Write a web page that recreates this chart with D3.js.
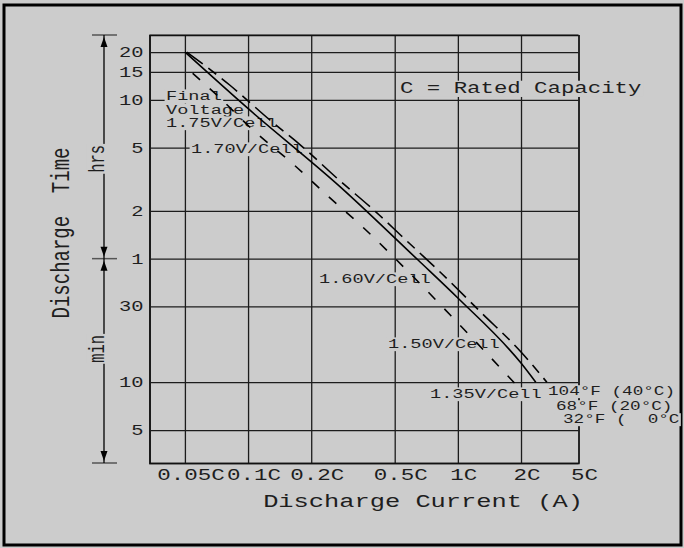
<!DOCTYPE html>
<html>
<head>
<meta charset="utf-8">
<script src="https://cdn.jsdelivr.net/npm/d3@7"></script>
<style>
  html, body { margin: 0; padding: 0; background: #cccccc; }
  svg { display: block; }
  text { font-family: "Liberation Mono", "Courier New", monospace; fill: #1e1e1e; white-space: pre; }
</style>
</head>
<body>
<div id="chart"></div>
<script>
//  DATA (current in multiples of C, time in minutes)

const xTicks = [0.05, 0.1, 0.2, 0.5, 1, 2, 5];
const xTickLabels = ['0.05C', '0.1C', '0.2C', '0.5C', '1C', '2C', '5C'];
const yTicks = [1200, 900, 600, 300, 120, 60, 30, 10, 5];
const yTickLabels = ['20', '15', '10', '5', '2', '1', '30', '10', '5'];

const seriesNames = ['104°F (40°C)', '68°F (20°C)', '32°F (  0°C'];

const current40 = [0.051, 0.0817, 0.127, 0.18, 0.265, 0.422, 0.539, 0.832, 1.283, 2.0, 3.02];
const time40 = [1200, 744, 448, 307, 193, 113, 83.3, 48.7, 27.7, 15.5, 10];

const current20 = [0.05, 0.098, 0.275, 0.646, 1.0, 2.0, 2.53];
const time20 = [1200, 541, 170, 58.8, 33.9, 13.2, 10];

const current0 = [0.0544, 0.0709, 0.1056, 0.166, 0.237, 0.352, 0.5, 0.692, 1.0, 1.399, 2.0];
const time0 = [881, 644, 387, 233, 151, 94.9, 60.5, 39.2, 23.6, 14.8, 8.93];

//  LAYOUT

const W = 684, H = 548, BG = '#cccccc';
const SX = 1.38; // the original lettering is stretched sideways
const plot = { left: 149.5, right: 578.5, top: 35, bottom: 463 };

const svg = d3.select('#chart')
    .append('svg')
    .attr('width', W)
    .attr('height', H);

svg.append('rect')
    .attr('x', 4).attr('y', 5)
    .attr('width', 677).attr('height', 540)
    .attr('fill', BG)
    .attr('stroke', '#000')
    .attr('stroke-width', 3);

//  SCALES : log scale up to 2C, the last step to 5C is squeezed into the edge
const pw = plot.right - plot.left;
const x = d3.scaleLog()
    .domain([0.0339, 2, 5])
    .range([plot.left, plot.left + pw * 0.866, plot.right]);

const y = d3.scaleLog()
    .domain([3.1, 1536])
    .range([plot.bottom, plot.top]);

//  GRID
svg.append('line')
    .attr('x1', plot.left).attr('x2', plot.right)
    .attr('y1', plot.top).attr('y2', plot.top)
    .attr('stroke', '#6a6a6a').attr('stroke-width', 1.5);

const xGrid = svg.append('g')
    .attr('transform', `translate(0, ${plot.bottom})`)
    .call(d3.axisBottom(x).tickValues(xTicks).tickSize(-(plot.bottom - plot.top)).tickFormat(''));
const yGrid = svg.append('g')
    .attr('transform', `translate(${plot.left}, 0)`)
    .call(d3.axisLeft(y).tickValues(yTicks).tickSize(-pw).tickFormat(''));

[xGrid, yGrid].forEach(g => {
    g.select('.domain').attr('stroke', '#111').attr('stroke-width', 1.5);
    g.selectAll('.tick line').attr('stroke', '#1c1c1c').attr('stroke-width', 1.3);
});

//  TEXT HELPER (optionally paints the background behind it to cut the grid)
function note(str, px, py, size, o = {}) {
    const g = svg.append('g')
        .attr('transform', `translate(${px}, ${py}) scale(${SX}, 1)` + (o.rotate ? ' rotate(-90)' : ''));
    const t = g.append('text')
        .attr('font-size', size)
        .attr('text-anchor', o.anchor || 'start')
        .text(str);
    if (o.bg) {
        const b = t.node().getBBox();
        g.insert('rect', 'text')
            .attr('x', b.x - 1).attr('y', b.y + 1)
            .attr('width', b.width + 2).attr('height', b.height - 2)
            .attr('fill', BG);
    }
    return g;
}

// tick labels
yTicks.forEach((d, i) => note(yTickLabels[i], 143.5, y(d) + 5, 14.8, { anchor: 'end' }));
xTicks.forEach((d, i) => note(xTickLabels[i], x(d) + 6, 480, 16.3, { anchor: 'middle' }));

// titles
note('Discharge Current (A)', 423, 507, 18.4, { anchor: 'middle' });
note('Discharge  Time', 69, 233, 19, { anchor: 'middle', rotate: true });
note('C = Rated Capacity', 400, 93, 16.2, { bg: true });

// final voltage notes
note('Final', 166, 100, 13.5, { bg: true });
note('Voltage', 166, 114, 13.5, { bg: true });
note('1.75V/Cell', 166, 127, 13.5, { bg: true });
note('1.70V/Cell', 191, 153, 13.5, { bg: true });
note('1.60V/Cell', 319, 283, 13.5, { bg: true });
note('1.50V/Cell', 388, 348, 13.5, { bg: true });
note('1.35V/Cell', 430, 398, 13.5, { bg: true });

// temperature notes
note(seriesNames[0], 548, 395, 12.8, { bg: true });
note(seriesNames[1], 556, 410, 12.8, { bg: true });
note(seriesNames[2], 563, 423, 12.8, { bg: true });

//  CURVES
const series = [
    { c: current40, t: time40, dash: '20,7,10,7' },
    { c: current20, t: time20, dash: null },
    { c: current0, t: time0, dash: '10,13' }
];

const line = d3.line()
    .x(d => x(d[0]))
    .y(d => y(d[1]))
    .curve(d3.curveMonotoneX);

svg.selectAll('path.curve')
    .data(series)
    .join('path')
    .attr('class', 'curve')
    .attr('d', s => line(s.c.map((v, i) => [v, s.t[i]])))
    .attr('fill', 'none')
    .attr('stroke', '#000')
    .attr('stroke-width', 1.6)
    .attr('stroke-dasharray', s => s.dash);

//  HRS / MIN ARROWS
const ax = 104;
const marks = [y.domain()[1], 60, y.domain()[0]].map(v => y(v));

marks.forEach(py => {
    svg.append('line')
        .attr('x1', ax - 12).attr('x2', ax + 13)
        .attr('y1', py).attr('y2', py)
        .attr('stroke', '#555').attr('stroke-width', 1.5);
});

function arrow(y1, y2) {
    svg.append('line')
        .attr('x1', ax).attr('x2', ax)
        .attr('y1', y1).attr('y2', y2)
        .attr('stroke', '#000').attr('stroke-width', 1.3);
    [[y1, 1], [y2, -1]].forEach(([tip, dir]) => {
        svg.append('path')
            .attr('d', `M${ax},${tip + dir * 2} L${ax - 3.5},${tip + dir * 12} L${ax + 3.5},${tip + dir * 12} Z`)
            .attr('fill', '#000');
    });
}
arrow(marks[0], marks[1]);
arrow(marks[1], marks[2]);

note('hrs', ax - 0.5, (marks[0] + marks[1]) / 2 + 12, 15.5, { anchor: 'middle', rotate: true, bg: true });
note('min', ax - 0.5, (marks[1] + marks[2]) / 2 - 12, 15.5, { anchor: 'middle', rotate: true, bg: true });
</script>
</body>
</html>
